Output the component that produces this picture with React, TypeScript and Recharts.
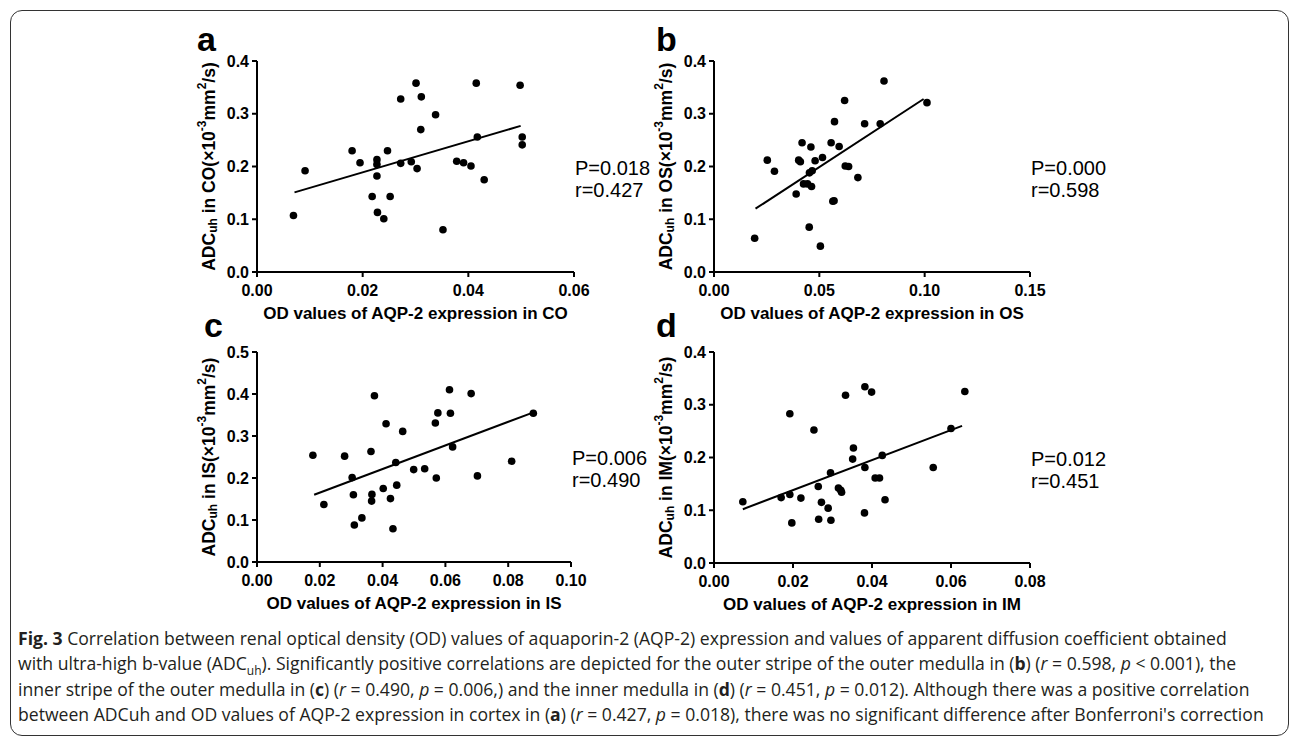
import React from "react";
import {
  Label,
  ReferenceLine,
  Scatter,
  ScatterChart,
  XAxis,
  YAxis
} from "recharts";

// values (OD on x, ADCuh on y)
const coOd = [0.0069, 0.0091, 0.018, 0.0195, 0.0227, 0.0227, 0.0227, 0.0218, 0.0228, 0.024, 0.0247, 0.0252, 0.0272, 0.0272, 0.0292, 0.0301, 0.0303, 0.0311, 0.031, 0.0338, 0.0352, 0.0378, 0.0391, 0.0405, 0.0415, 0.0417, 0.043, 0.0498, 0.0502, 0.0502];
const coAdc = [0.107, 0.192, 0.23, 0.207, 0.213, 0.204, 0.182, 0.143, 0.113, 0.101, 0.23, 0.143, 0.328, 0.206, 0.209, 0.358, 0.196, 0.332, 0.27, 0.298, 0.08, 0.21, 0.207, 0.201, 0.358, 0.256, 0.175, 0.354, 0.256, 0.241];
const coFitX = [0.0071, 0.0499];
const coFitY = [0.151, 0.277];

const osOd = [0.0193, 0.0253, 0.0287, 0.039, 0.0402, 0.041, 0.0418, 0.0425, 0.0444, 0.0452, 0.046, 0.0453, 0.0466, 0.0463, 0.048, 0.0505, 0.0515, 0.0556, 0.0564, 0.057, 0.0572, 0.0594, 0.062, 0.0623, 0.0639, 0.0683, 0.0715, 0.0789, 0.0807, 0.1011];
const osAdc = [0.064, 0.212, 0.191, 0.148, 0.212, 0.209, 0.245, 0.167, 0.167, 0.085, 0.237, 0.188, 0.192, 0.162, 0.211, 0.049, 0.217, 0.245, 0.134, 0.135, 0.285, 0.238, 0.325, 0.201, 0.2, 0.179, 0.281, 0.281, 0.362, 0.321];
const osFitX = [0.0197, 0.0995];
const osFitY = [0.12, 0.328];

const isOd = [0.0178, 0.0213, 0.0279, 0.0303, 0.0307, 0.031, 0.0334, 0.0363, 0.0366, 0.0365, 0.0374, 0.0402, 0.0411, 0.0425, 0.0433, 0.0442, 0.0445, 0.0464, 0.0499, 0.0534, 0.0568, 0.0571, 0.0576, 0.0613, 0.0616, 0.0623, 0.0682, 0.0702, 0.0811, 0.088];
const isAdc = [0.254, 0.137, 0.252, 0.201, 0.16, 0.088, 0.105, 0.263, 0.161, 0.145, 0.396, 0.175, 0.329, 0.151, 0.079, 0.237, 0.183, 0.311, 0.22, 0.222, 0.331, 0.2, 0.355, 0.41, 0.354, 0.274, 0.401, 0.205, 0.24, 0.354];
const isFitX = [0.0182, 0.0872];
const isFitY = [0.16, 0.354];

const imOd = [0.0073, 0.017, 0.0192, 0.0192, 0.0197, 0.022, 0.0253, 0.0264, 0.0265, 0.0272, 0.0289, 0.0295, 0.0296, 0.0315, 0.0321, 0.0323, 0.0333, 0.0353, 0.0351, 0.0382, 0.0381, 0.0382, 0.0399, 0.0408, 0.0419, 0.0426, 0.0433, 0.0555, 0.06, 0.0635];
const imAdc = [0.116, 0.124, 0.13, 0.283, 0.076, 0.123, 0.252, 0.145, 0.083, 0.115, 0.104, 0.171, 0.081, 0.142, 0.138, 0.134, 0.318, 0.218, 0.197, 0.181, 0.095, 0.334, 0.324, 0.161, 0.161, 0.204, 0.12, 0.181, 0.255, 0.325];
const imFitX = [0.0073, 0.0628];
const imFitY = [0.102, 0.26];

const coTicks = [0, 0.02, 0.04, 0.06];
const osTicks = [0, 0.05, 0.1, 0.15];
const isTicks = [0, 0.02, 0.04, 0.06, 0.08, 0.1];
const imTicks = [0, 0.02, 0.04, 0.06, 0.08];
const adcTicks = [0, 0.1, 0.2, 0.3, 0.4];
const adcTicksIs = [0, 0.1, 0.2, 0.3, 0.4, 0.5];

const panelLetters = ["a", "b", "c", "d"];
const regions = ["CO", "OS", "IS", "IM"];
const pValues = ["0.018", "0.000", "0.006", "0.012"];
const rValues = ["0.427", "0.598", "0.490", "0.451"];

const FONT = "'Liberation Sans', Arial, sans-serif";

const yLabel = (region: string) => (props: any) => {
  const vb = props.viewBox || {};
  const cx = vb.x + vb.width - 48;
  const cy = vb.y + vb.height / 2;
  return (
    <text
      transform={`translate(${cx},${cy}) rotate(-90)`}
      textAnchor="middle"
      dominantBaseline="central"
      fontFamily={FONT}
      fontWeight="bold"
      fontSize={17.5}
      fill="#000"
    >
      ADC
      <tspan dy={4} fontSize={12}>uh</tspan>
      <tspan dy={-4}>{` in ${region}(×10`}</tspan>
      <tspan dy={-7} fontSize={12}>-3</tspan>
      <tspan dy={7}>mm</tspan>
      <tspan dy={-7} fontSize={12}>2</tspan>
      <tspan dy={7}>/s)</tspan>
    </text>
  );
};

const xLabel = (region: string) => (props: any) => {
  const vb = props.viewBox || {};
  return (
    <text
      x={vb.x + vb.width / 2}
      y={vb.y + 47}
      textAnchor="middle"
      fontFamily={FONT}
      fontWeight="bold"
      fontSize={17}
      fill="#000"
    >
      {`OD values of AQP-2 expression in ${region}`}
    </text>
  );
};

const dot = (p: any) => <circle cx={p.cx} cy={p.cy} r={3.8} fill="#000" />;

interface PanelProps {
  idx: number;
  plotLeft: number;
  plotTop: number;
  plotWidth: number;
  plotHeight: number;
  xs: number[];
  ys: number[];
  fitX: number[];
  fitY: number[];
  xTicks: number[];
  yTicks: number[];
}

// label offsets [left, top] inside each panel's box
const letterPos = [[10, 2], [12, 2], [17, -3], [12, -3]];

function Panel({ idx, plotLeft, plotTop, plotWidth, plotHeight, xs, ys, fitX, fitY, xTicks, yTicks }: PanelProps) {
  const data = xs.map((x, i) => ({ x, y: ys[i] }));
  const left = plotLeft - 70;
  const top = plotTop - 41;
  const axisStyle = { stroke: "#000", strokeWidth: 2 };
  const tickStyle = { fill: "#000", fontSize: 16, fontWeight: "bold", fontFamily: FONT };
  return (
    <div style={{ position: "absolute", left, top }}>
      <ScatterChart
        width={plotWidth + 100}
        height={plotHeight + 101}
        margin={{ top: 41, right: 30, left: 30, bottom: 10 }}
      >
        <XAxis
          type="number"
          dataKey="x"
          domain={[xTicks[0], xTicks[xTicks.length - 1]]}
          ticks={xTicks}
          tickFormatter={(v: number) => v.toFixed(2)}
          axisLine={axisStyle}
          tickLine={axisStyle}
          tickSize={5}
          tickMargin={8}
          tick={tickStyle}
          height={50}
          interval={0}
        >
          <Label content={xLabel(regions[idx])} />
        </XAxis>
        <YAxis
          type="number"
          dataKey="y"
          domain={[yTicks[0], yTicks[yTicks.length - 1]]}
          ticks={yTicks}
          tickFormatter={(v: number) => v.toFixed(1)}
          axisLine={axisStyle}
          tickLine={axisStyle}
          tickSize={5}
          tickMargin={3}
          tick={tickStyle}
          width={40}
          interval={0}
        >
          <Label content={yLabel(regions[idx])} />
        </YAxis>
        <ReferenceLine
          segment={[{ x: fitX[0], y: fitY[0] }, { x: fitX[1], y: fitY[1] }]}
          stroke="#000"
          strokeWidth={2}
        />
        <Scatter data={data} shape={dot} isAnimationActive={false} />
      </ScatterChart>
      <div
        style={{
          position: "absolute",
          left: letterPos[idx][0],
          top: letterPos[idx][1],
          fontFamily: FONT,
          fontWeight: "bold",
          fontSize: 34,
          lineHeight: "34px"
        }}
      >
        {panelLetters[idx]}
      </div>
      <div
        style={{
          position: "absolute",
          left: plotWidth + 71,
          top: 41 + plotHeight / 2 - 10,
          fontFamily: FONT,
          fontSize: 20,
          lineHeight: "22px",
          whiteSpace: "nowrap"
        }}
      >
        <div>P={pValues[idx]}</div>
        <div>r={rValues[idx]}</div>
      </div>
    </div>
  );
}

const capStyle: React.CSSProperties = {
  position: "absolute",
  left: 18,
  whiteSpace: "nowrap",
  fontFamily: "'Open Sans', sans-serif",
  fontSize: 17.6,
  lineHeight: "24px",
  color: "#231f20"
};

export default function App() {
  return (
    <div style={{ position: "absolute", left: 0, top: 0, width: 1290, height: 738, background: "#fff", overflow: "hidden" }}>
      <div
        style={{
          position: "absolute",
          left: 10,
          top: 10,
          width: 1277,
          height: 724,
          border: "1.5px solid #333",
          borderRadius: 12
        }}
      />
      <Panel idx={0} plotLeft={257} plotTop={61} plotWidth={317} plotHeight={211} xs={coOd} ys={coAdc} fitX={coFitX} fitY={coFitY} xTicks={coTicks} yTicks={adcTicks} />
      <Panel idx={1} plotLeft={714} plotTop={61} plotWidth={316} plotHeight={211} xs={osOd} ys={osAdc} fitX={osFitX} fitY={osFitY} xTicks={osTicks} yTicks={adcTicks} />
      <Panel idx={2} plotLeft={257} plotTop={352} plotWidth={314} plotHeight={210} xs={isOd} ys={isAdc} fitX={isFitX} fitY={isFitY} xTicks={isTicks} yTicks={adcTicksIs} />
      <Panel idx={3} plotLeft={714} plotTop={352} plotWidth={316} plotHeight={211} xs={imOd} ys={imAdc} fitX={imFitX} fitY={imFitY} xTicks={imTicks} yTicks={adcTicks} />
      <div style={{ ...capStyle, top: 626 }}>
        <b>Fig. 3</b> Correlation between renal optical density (OD) values of aquaporin-2 (AQP-2) expression and values of apparent diffusion coefficient obtained
      </div>
      <div style={{ ...capStyle, top: 651 }}>
        with ultra-high b-value (ADC<sub style={{ fontSize: 12, lineHeight: 0 }}>uh</sub>). Significantly positive correlations are depicted for the outer stripe of the outer medulla in (<b>b</b>) (<i>r</i> = 0.598, <i>p</i> &lt; 0.001), the
      </div>
      <div style={{ ...capStyle, top: 677 }}>
        inner stripe of the outer medulla in (<b>c</b>) (<i>r</i> = 0.490, <i>p</i> = 0.006,) and the inner medulla in (<b>d</b>) (<i>r</i> = 0.451, <i>p</i> = 0.012). Although there was a positive correlation
      </div>
      <div style={{ ...capStyle, top: 702 }}>
        between ADCuh and OD values of AQP-2 expression in cortex in (<b>a</b>) (<i>r</i> = 0.427, <i>p</i> = 0.018), there was no significant difference after Bonferroni's correction
      </div>
    </div>
  );
}
